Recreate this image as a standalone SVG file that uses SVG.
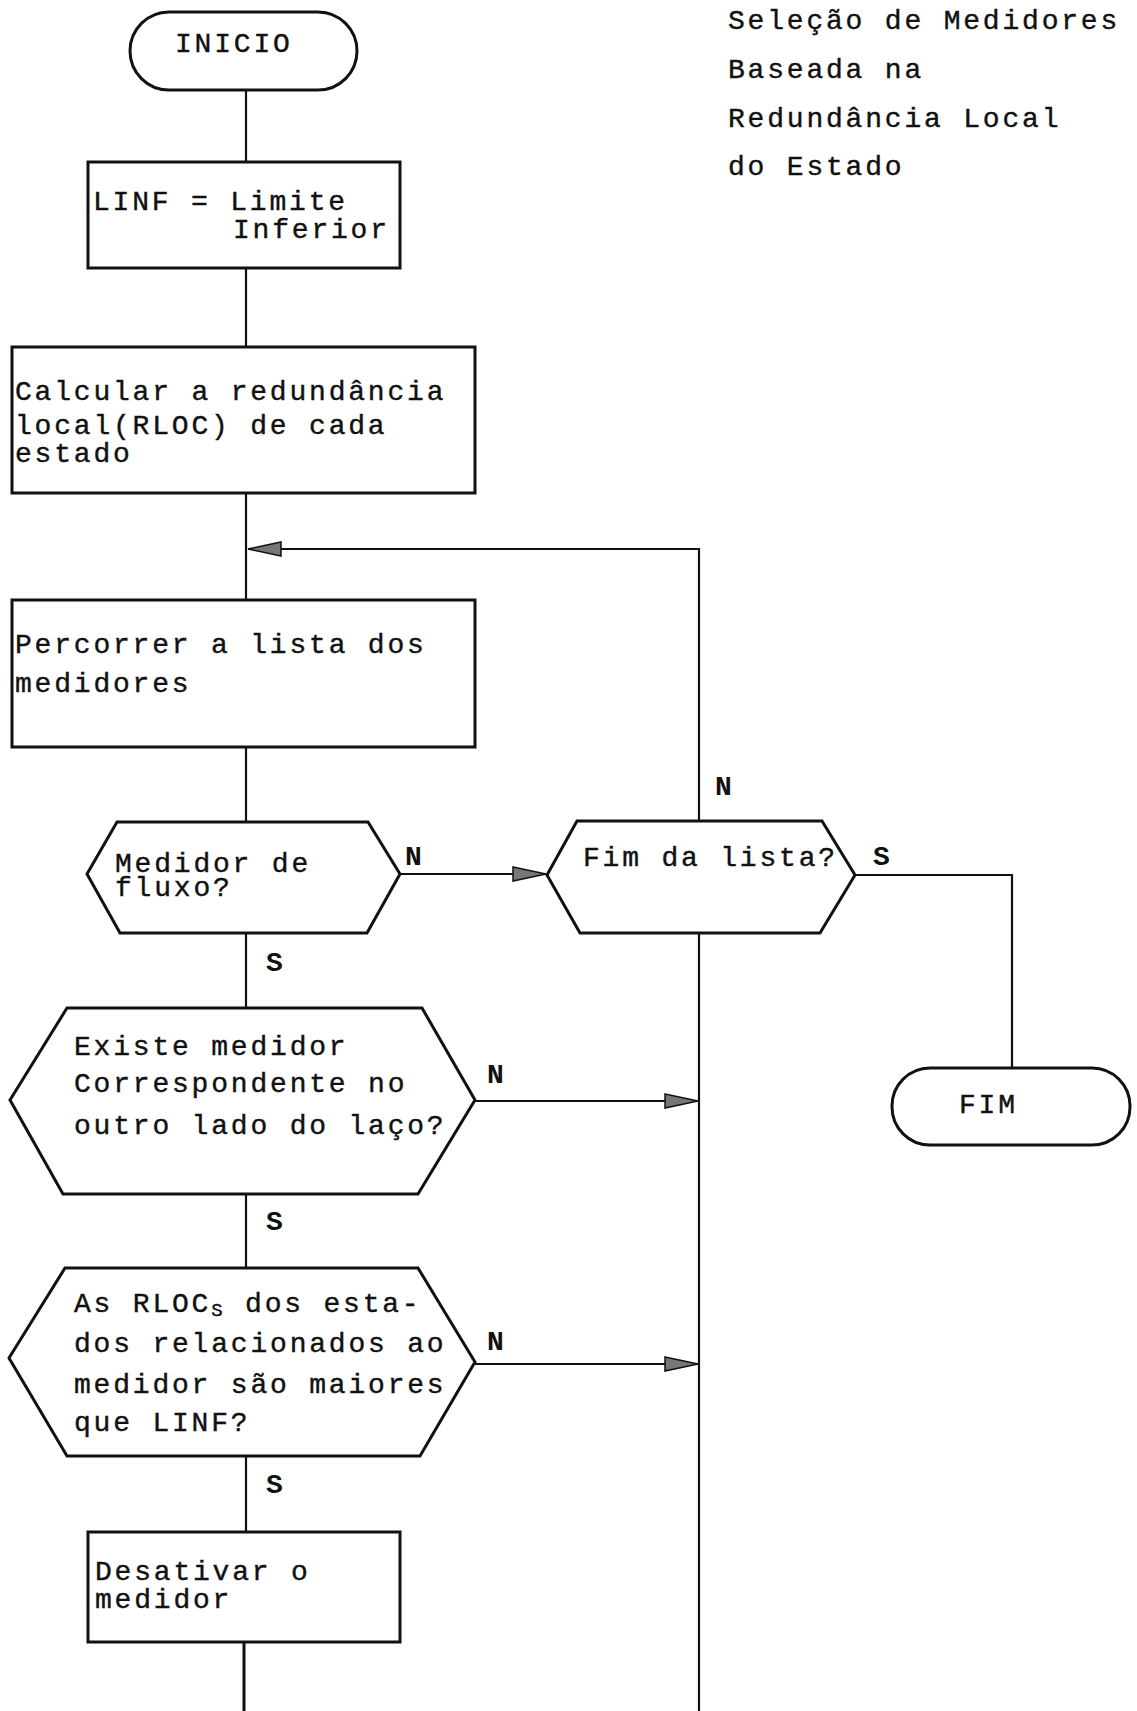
<svg xmlns="http://www.w3.org/2000/svg" width="1137" height="1711" viewBox="0 0 1137 1711">
<style>
  .box{fill:#fff;stroke:#111;stroke-width:3}
  .ln{fill:none;stroke:#111;stroke-width:2.2}
  .t{font-family:"Liberation Mono","DejaVu Sans Mono",monospace;font-size:28px;letter-spacing:2.8px;fill:#111;stroke:#111;stroke-width:0.4}
  .lb{font-family:"Liberation Mono","DejaVu Sans Mono",monospace;font-size:28px;font-weight:bold;fill:#111}
  .ttl{font-family:"Liberation Mono","DejaVu Sans Mono",monospace;font-size:28px;letter-spacing:2.8px;fill:#111;stroke:#111;stroke-width:0.4}
</style>
<defs>
  <marker id="ah" markerUnits="userSpaceOnUse" markerWidth="40" markerHeight="22" refX="34" refY="10" orient="auto">
    <polygon points="1,3 34,10 1,17" fill="#777" stroke="#111" stroke-width="1.5"/>
  </marker>
</defs>
<rect width="1137" height="1711" fill="#fff"/>
<g id="connectors">
  <path class="ln" d="M246,90 V162"/>
  <path class="ln" d="M246,268 V347"/>
  <path class="ln" d="M246,493 V600"/>
  <path class="ln" d="M699,821 V549 H248" marker-end="url(#ah)"/>
  <path class="ln" d="M246,747 V822"/>
  <path class="ln" d="M400,874 H546" marker-end="url(#ah)"/>
  <path class="ln" d="M246,933 V1008"/>
  <path class="ln" d="M475,1101 H698" marker-end="url(#ah)"/>
  <path class="ln" d="M246,1194 V1268"/>
  <path class="ln" d="M475,1364 H698" marker-end="url(#ah)"/>
  <path class="ln" d="M246,1456 V1532"/>
  <path class="ln" d="M244,1642 V1711" style="stroke-width:3"/>
  <path class="ln" d="M699,933 V1711"/>
  <path class="ln" d="M855,875 H1012 V1068"/>
  <text class="lb" x="405" y="865">N</text>
  <text class="lb" x="715" y="795">N</text>
  <text class="lb" x="873" y="865">S</text>
  <text class="lb" x="266" y="971">S</text>
  <text class="lb" x="487" y="1083">N</text>
  <text class="lb" x="266" y="1230">S</text>
  <text class="lb" x="487" y="1350">N</text>
  <text class="lb" x="266" y="1493">S</text>
</g>
<g id="title">
  <text class="ttl" x="728" y="29">Seleção de Medidores</text>
  <text class="ttl" x="728" y="78">Baseada na</text>
  <text class="ttl" x="728" y="127">Redundância Local</text>
  <text class="ttl" x="728" y="175">do Estado</text>
</g>
<g id="inicio">
  <rect class="box" x="130" y="12" width="227" height="78" rx="39"/>
  <text class="t" x="175" y="52">INICIO</text>
</g>
<g id="linf">
  <rect class="box" x="88" y="162" width="312" height="106"/>
  <text class="t" x="93" y="210">LINF = Limite</text>
  <text class="t" x="233" y="238">Inferior</text>
</g>
<g id="calcular">
  <rect class="box" x="12" y="347" width="463" height="146"/>
  <text class="t" x="15" y="400">Calcular a redundância</text>
  <text class="t" x="15" y="434">local(RLOC) de cada</text>
  <text class="t" x="15" y="462">estado</text>
</g>
<g id="percorrer">
  <rect class="box" x="12" y="600" width="463" height="147"/>
  <text class="t" x="15" y="653">Percorrer a lista dos</text>
  <text class="t" x="15" y="692">medidores</text>
</g>
<g id="medidor-fluxo">
  <polygon class="box" points="117,822 368,822 400,874 367,933 120,933 87,874"/>
  <text class="t" x="115" y="872">Medidor de</text>
  <text class="t" x="115" y="896">fluxo?</text>
</g>
<g id="fim-lista">
  <polygon class="box" points="577,821 822,821 855,875 820,933 580,933 547,875"/>
  <text class="t" x="583" y="866">Fim da lista?</text>
</g>
<g id="existe">
  <polygon class="box" points="67,1008 422,1008 475,1100 418,1194 63,1194 10,1100"/>
  <text class="t" x="74" y="1055">Existe medidor</text>
  <text class="t" x="74" y="1092">Correspondente no</text>
  <text class="t" x="74" y="1134">outro lado do laço?</text>
</g>
<g id="rloc">
  <polygon class="box" points="65,1268 418,1268 475,1362 420,1456 67,1456 9,1358"/>
  <text class="t" x="74" y="1312">As RLOC<tspan font-size="19" dy="4">S</tspan><tspan dy="-4"> dos esta-</tspan></text>
  <text class="t" x="74" y="1352">dos relacionados ao</text>
  <text class="t" x="74" y="1393">medidor são maiores</text>
  <text class="t" x="74" y="1431">que LINF?</text>
</g>
<g id="desativar">
  <rect class="box" x="88" y="1532" width="312" height="110"/>
  <text class="t" x="95" y="1580">Desativar o</text>
  <text class="t" x="95" y="1608">medidor</text>
</g>
<g id="fim">
  <rect class="box" x="892" y="1068" width="238" height="77" rx="38"/>
  <text class="t" x="959" y="1113">FIM</text>
</g>
</svg>
